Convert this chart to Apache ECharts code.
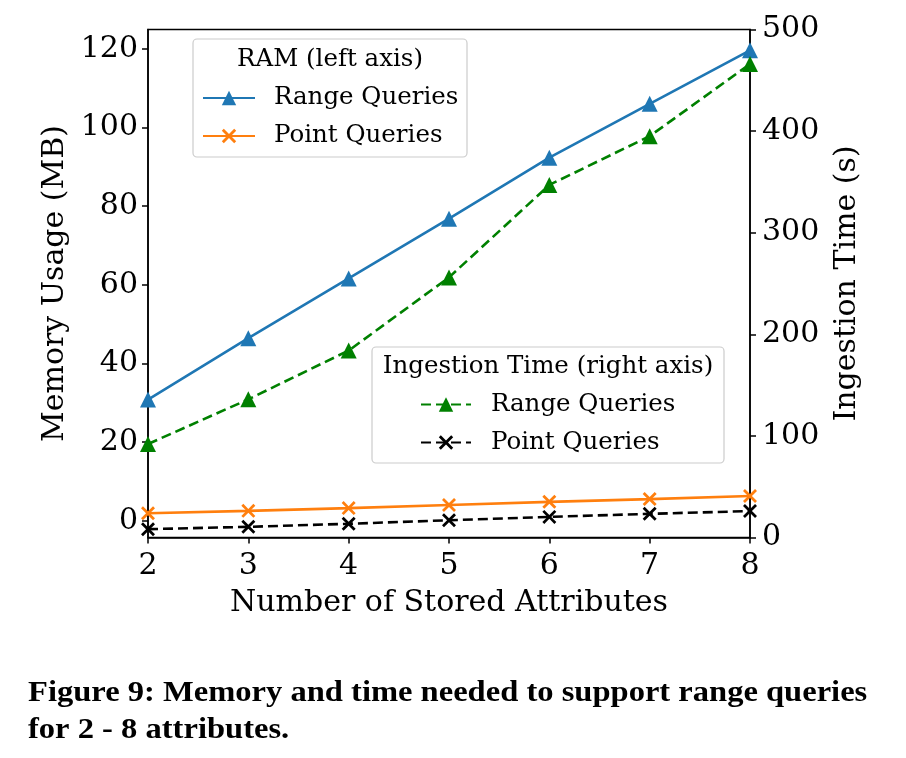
<!DOCTYPE html>
<html>
<head>
<meta charset="utf-8">
<script src="https://cdn.jsdelivr.net/npm/echarts@6/dist/echarts.min.js"></script>
<style>html,body{margin:0;padding:0;background:#fff}#c{width:906px;height:758px}</style>
</head>
<body>
<div id="c"></div>
<script>
const attributes = [2, 3, 4, 5, 6, 7, 8];
const ramRange = [30.8, 46.4, 61.6, 76.8, 92.3, 106.0, 119.6];
const ramPoint = [1.9, 2.5, 3.2, 4.0, 4.8, 5.5, 6.3];
const timeRange = [92, 136, 184, 256, 347, 395, 466];
const timePoint = [8.2, 10.5, 13.5, 17.0, 20.3, 23.3, 26.0];
const leftTicks = [0, 20, 40, 60, 80, 100, 120];
const rightTicks = [0, 100, 200, 300, 400, 500];

const F = 'DejaVu Serif';
const X = 'path://M0,1.4L1.4,0L5,3.6L8.6,0L10,1.4L6.4,5L10,8.6L8.6,10L5,6.4L1.4,10L0,8.6L3.6,5Z';
const pair = (xs, ys) => xs.map((x, i) => [x, ys[i]]);

const chart = echarts.init(document.getElementById('c'), null, {renderer: 'canvas'});
const axisCommon = {
  axisLine: {show: true, onZero: false, lineStyle: {color: '#000', width: 1.5}},
  axisTick: {show: true, inside: false, length: 6, lineStyle: {color: '#000', width: 1.5}},
  splitLine: {show: false},
  nameTextStyle: {fontFamily: F, fontSize: 30, color: '#000'}
};
const labelStyle = {fontFamily: F, fontSize: 30, color: '#000'};
const legendFmt = n => n.split(' |')[0];

chart.setOption({
  animation: false,
  backgroundColor: '#fff',
  grid: {left: 148, right: 156, top: 29.5, bottom: 220.5, show: true, borderColor: '#000', borderWidth: 1.5, backgroundColor: 'transparent'},
  xAxis: Object.assign({}, axisCommon, {
    type: 'value', min: 2, max: 8, interval: 1,
    name: 'Number of Stored Attributes', nameLocation: 'middle', nameGap: 51,
    axisLabel: Object.assign({margin: 14}, labelStyle)
  }),
  yAxis: [
    Object.assign({}, axisCommon, {
      type: 'value', min: -4.27, max: 124.9, position: 'left',
      name: 'Memory Usage (MB)', nameLocation: 'middle', nameGap: 76, nameRotate: 90,
      axisLabel: Object.assign({margin: 10, customValues: leftTicks}, labelStyle),
      axisTick: Object.assign({}, axisCommon.axisTick, {customValues: leftTicks})
    }),
    Object.assign({}, axisCommon, {
      type: 'value', min: 0, max: 500, position: 'right',
      name: 'Ingestion Time (s)', nameLocation: 'middle', nameGap: 82, nameRotate: 90,
      axisLabel: Object.assign({margin: 12, customValues: rightTicks}, labelStyle),
      axisTick: Object.assign({}, axisCommon.axisTick, {customValues: rightTicks})
    })
  ],
  legend: [
    {
      data: ['Range Queries |ram', 'Point Queries |ram'], formatter: legendFmt,
      orient: 'vertical', left: 202, top: 85.5, padding: 0, itemWidth: 52, itemHeight: 18, itemGap: 13,
      textStyle: {fontFamily: F, fontSize: 24.5, color: '#000', padding: [0, 0, 0, 14]}, z: 20, selectedMode: false
    },
    {
      data: ['Range Queries |time', 'Point Queries |time'], formatter: legendFmt,
      orient: 'vertical', left: 420, top: 392, padding: 0, itemWidth: 50, itemHeight: 18, itemGap: 13,
      textStyle: {fontFamily: F, fontSize: 24.5, color: '#000', padding: [0, 0, 0, 15]}, z: 20, selectedMode: false
    }
  ],
  graphic: [
    {type: 'rect', z: 10, shape: {x: 193, y: 39, width: 274, height: 118, r: 4}, style: {fill: 'rgba(255,255,255,0.8)', stroke: '#cccccc', lineWidth: 1.2}},
    {type: 'text', z: 11, x: 330, y: 60, style: {text: 'RAM (left axis)', font: '24.5px "DejaVu Serif"', fill: '#000', align: 'center', verticalAlign: 'middle'}},
    {type: 'rect', z: 10, shape: {x: 372, y: 347, width: 352, height: 116, r: 4}, style: {fill: 'rgba(255,255,255,0.8)', stroke: '#cccccc', lineWidth: 1.2}},
    {type: 'text', z: 11, x: 548, y: 367, style: {text: 'Ingestion Time (right axis)', font: '24.5px "DejaVu Serif"', fill: '#000', align: 'center', verticalAlign: 'middle'}},
    {type: 'text', z: 11, x: 28, y: 675, scaleX: 1.085, style: {text: 'Figure 9: Memory and time needed to support range queries\nfor 2 - 8 attributes.', font: 'bold 30px "Liberation Serif"', fill: '#000', lineHeight: 37}}
  ],
  series: [
    {name: 'Range Queries |ram', type: 'line', yAxisIndex: 0, data: pair(attributes, ramRange),
      symbol: 'triangle', symbolSize: 16, color: '#1f77b4', lineStyle: {width: 2.6, color: '#1f77b4'}, itemStyle: {color: '#1f77b4'}},
    {name: 'Point Queries |ram', type: 'line', yAxisIndex: 0, data: pair(attributes, ramPoint),
      symbol: X, symbolSize: 14, color: '#ff7f0e', lineStyle: {width: 2.6, color: '#ff7f0e'}, itemStyle: {color: '#ff7f0e'}},
    {name: 'Range Queries |time', type: 'line', yAxisIndex: 1, data: pair(attributes, timeRange),
      symbol: 'triangle', symbolSize: 16, color: '#008000', lineStyle: {width: 2.6, color: '#008000', type: [10, 5]}, itemStyle: {color: '#008000'}},
    {name: 'Point Queries |time', type: 'line', yAxisIndex: 1, data: pair(attributes, timePoint),
      symbol: X, symbolSize: 14, color: '#000', lineStyle: {width: 2.6, color: '#000', type: [10, 5]}, itemStyle: {color: '#000'}}
  ]
});
</script>
</body>
</html>
